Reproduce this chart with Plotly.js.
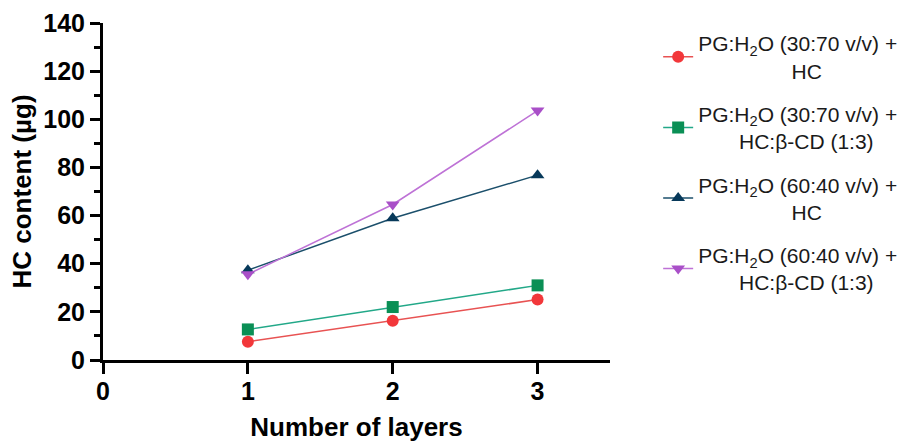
<!DOCTYPE html>
<html>
<head>
<meta charset="utf-8">
<script src="https://cdn.plot.ly/plotly-3.0.1.min.js"></script>
<style>html,body{margin:0;padding:0;background:#fff;}#chart{width:917px;height:446px;}</style>
</head>
<body>
<div id="chart"></div>
<script>
const layers = [1, 2, 3];
const pg3070HC = [7.6, 16.3, 25.1];
const pg3070HCbCD = [12.7, 22.0, 31.0];
const pg6040HC = [37.3, 58.9, 76.8];
const pg6040HCbCD = [35.6, 64.6, 103.6];
const NB = '\u00A0';
const names = [
  'PG:H<sub>2</sub>O (30:70 v/v) +<br>' + NB.repeat(16) + 'HC',
  'PG:H<sub>2</sub>O (30:70 v/v) +<br>' + NB.repeat(7) + 'HC:β-CD (1:3)',
  'PG:H<sub>2</sub>O (60:40 v/v) +<br>' + NB.repeat(16) + 'HC',
  'PG:H<sub>2</sub>O (60:40 v/v) +<br>' + NB.repeat(7) + 'HC:β-CD (1:3)'
];
const series = [pg3070HC, pg3070HCbCD, pg6040HC, pg6040HCbCD];
const markerColors = ['#F2373A', '#0A8F55', '#07395A', '#A94FC8'];
const lineColors = ['#E85252', '#22A888', '#1B4F6B', '#BE72D6'];
const symbols = ['circle', 'square', 'triangle-up', 'triangle-down'];

const traces = series.map((ys, i) => ({
  x: layers, y: ys, name: names[i], type: 'scatter', mode: 'lines+markers',
  legendgroup: 'g' + i,
  line: {color: lineColors[i], width: 1.5},
  marker: {color: markerColors[i], symbol: symbols[i], size: 12}
}));

const F = '"Liberation Sans", Arial, sans-serif';
const layout = {
  width: 917, height: 446,
  margin: {l: 103, r: 307, t: 23, b: 86},
  paper_bgcolor: '#fff', plot_bgcolor: '#fff',
  font: {family: F, color: '#000'},
  showlegend: true,
  legend: {x: 1.095, xanchor: 'left', y: 1.0, yanchor: 'top', font: {size: 21, color: '#1a1a1a', family: F},
           tracegroupgap: 13, bgcolor: 'rgba(0,0,0,0)'},
  xaxis: {
    range: [0, 3.5], tickvals: [0, 1, 2, 3], ticktext: ['0', '1', '2', '3'],
    showgrid: false, zeroline: false, showline: true, linecolor: '#000', linewidth: 3,
    ticks: 'outside', ticklen: 11, tickwidth: 3, tickcolor: '#000', ticklabelstandoff: -4,
    tickfont: {family: F, size: 25, color: '#000', weight: 'bold'},
    title: {text: '<b>Number of layers</b>', font: {family: F, size: 26, color: '#000'}, standoff: 14}
  },
  yaxis: {
    range: [0, 140], tickvals: [0, 20, 40, 60, 80, 100, 120, 140],
    showgrid: false, zeroline: false, showline: true, linecolor: '#000', linewidth: 3,
    ticks: 'outside', ticklen: 10, tickwidth: 3, tickcolor: '#000',
    minor: {tickvals: [10, 30, 50, 70, 90, 110, 130], ticks: 'outside', ticklen: 6, tickwidth: 3, tickcolor: '#000'},
    tickfont: {family: F, size: 25, color: '#000', weight: 'bold'},
    title: {text: '<b>HC content (µg)</b>', font: {family: F, size: 26, color: '#000'}, standoff: 5}
  }
};
Plotly.newPlot('chart', traces, layout, {displayModeBar: false, staticPlot: true});
</script>
</body>
</html>
